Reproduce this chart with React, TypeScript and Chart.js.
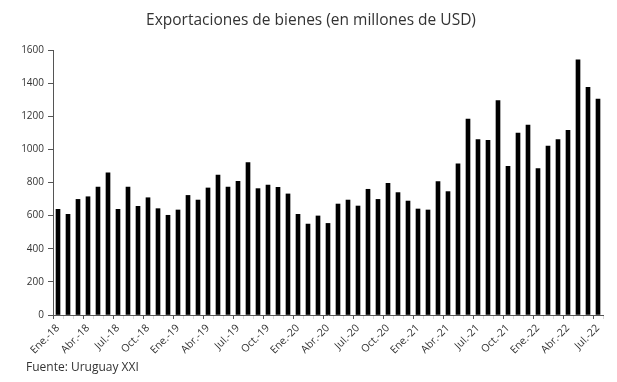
import React, { useEffect, useRef } from "react";
import { Chart, registerables } from "chart.js";

Chart.register(...registerables);

const years = ["18", "19", "20", "21", "22"];
const monthNames = ["Ene.", "Feb.", "Mar.", "Abr.", "May.", "Jun.", "Jul.", "Ago.", "Sep.", "Oct.", "Nov.", "Dic."];

const categories: string[] = [];
years.forEach((y) => {
  monthNames.forEach((m, i) => {
    if (y === "22" && i > 6) return;
    categories.push(`${m}-${y}`);
  });
});

const exports2018 = [638, 608, 698, 714, 773, 859, 638, 773, 656, 708, 642, 602];
const exports2019 = [634, 722, 694, 767, 845, 773, 807, 920, 763, 785, 771, 731];
const exports2020 = [608, 549, 598, 553, 670, 694, 658, 759, 698, 795, 739, 688];
const exports2021 = [640, 634, 805, 745, 912, 1183, 1059, 1055, 1294, 898, 1099, 1147];
const exports2022 = [884, 1020, 1059, 1115, 1540, 1375, 1304];

const values = [...exports2018, ...exports2019, ...exports2020, ...exports2021, ...exports2022];

const yTicks = [0, 200, 400, 600, 800, 1000, 1200, 1400, 1600];

const FONT = "'Open Sans', sans-serif";
const TEXT = "#333333";

export default function App() {
  const ref = useRef<HTMLCanvasElement | null>(null);

  useEffect(() => {
    if (!ref.current) return;
    const chart = new Chart(ref.current, {
      type: "bar",
      data: {
        labels: categories,
        datasets: [
          {
            data: values,
            backgroundColor: "#000000",
            borderWidth: 0,
            barThickness: 4,
          },
        ],
      },
      options: {
        animation: false,
        responsive: true,
        maintainAspectRatio: false,
        layout: { padding: { top: 50, left: 0, right: 14, bottom: 0 } },
        plugins: {
          legend: { display: false },
          title: { display: false },
          tooltip: { enabled: false },
        },
        scales: {
          x: {
            offset: true,
            afterFit: (s: any) => {
              s.height = 67;
            },
            border: { display: true, color: "#555555", width: 1 },
            grid: {
              display: true,
              offset: true,
              drawOnChartArea: false,
              drawTicks: true,
              tickLength: 4,
              color: (ctx: any) => (ctx.index % 3 === 0 ? "#555555" : "rgba(0,0,0,0.15)"),
            },
            ticks: {
              autoSkip: false,
              minRotation: 45,
              maxRotation: 45,
              padding: 3,
              color: TEXT,
              font: { family: FONT, size: 10.5 },
              callback: (_v: any, i: number) => (i % 3 === 0 ? categories[i] : ""),
            },
          },
          y: {
            min: 0,
            max: 1600,
            afterFit: (s: any) => {
              s.width = 53;
            },
            afterBuildTicks: (s: any) => {
              s.ticks = yTicks.map((v) => ({ value: v }));
            },
            border: { display: true, color: "#555555", width: 1 },
            grid: {
              display: true,
              drawOnChartArea: false,
              drawTicks: true,
              tickLength: 5,
              color: "#555555",
            },
            ticks: {
              padding: 4,
              color: TEXT,
              font: { family: FONT, size: 10 },
              callback: (v: any) => String(v),
            },
          },
        },
      },
    });
    return () => chart.destroy();
  }, []);

  return (
    <div style={{ position: "fixed", left: 0, top: 0, width: 617, height: 382, background: "#fff" }}>
      <canvas ref={ref} />
      <div
        style={{
          position: "absolute",
          left: 0,
          width: 622,
          top: 9,
          textAlign: "center",
          fontFamily: FONT,
          fontSize: 15.5,
          color: TEXT,
          lineHeight: "20px",
        }}
      >
        Exportaciones de bienes (en millones de USD)
      </div>
      <div
        style={{
          position: "absolute",
          left: 26,
          top: 359,
          fontFamily: FONT,
          fontSize: 12,
          color: TEXT,
          lineHeight: "16px",
        }}
      >
        Fuente: Uruguay XXI
      </div>
    </div>
  );
}
